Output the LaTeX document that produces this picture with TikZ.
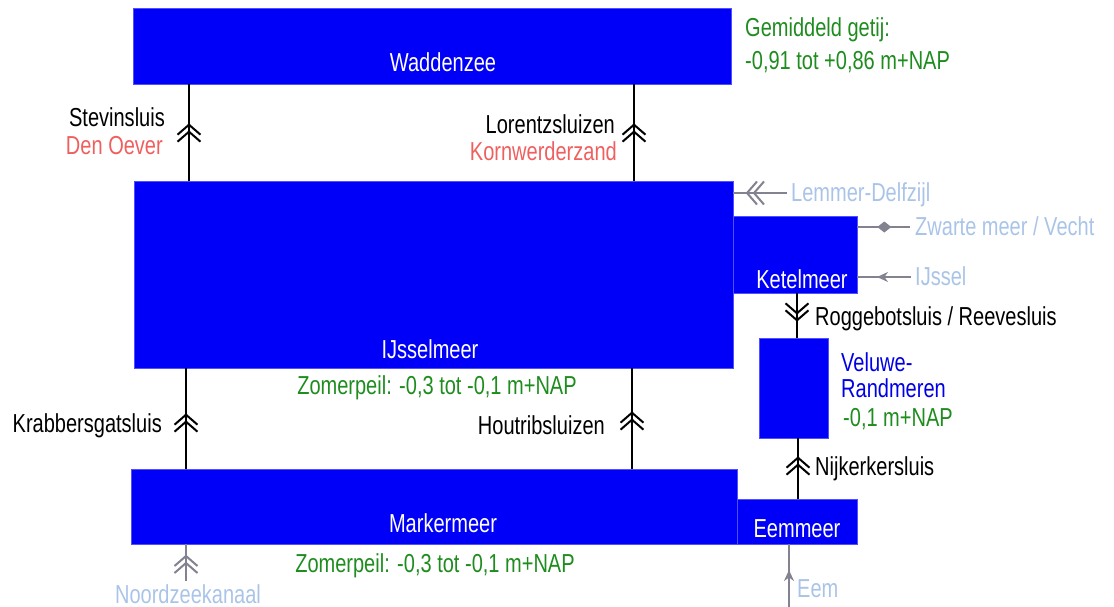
\documentclass[tikz,border=0pt]{standalone}
\usepackage{fontspec}
\setmainfont[FakeStretch=0.77]{Liberation Sans}
\usetikzlibrary{decorations.markings,arrows.meta}

\definecolor{lake}{RGB}{0,0,248}
\definecolor{lakeedge}{RGB}{80,80,255}
\definecolor{peil}{RGB}{30,140,30}
\definecolor{plaats}{RGB}{240,95,95}
\definecolor{extern}{RGB}{170,196,232}
\definecolor{leiding}{RGB}{130,130,145}
\definecolor{randmeer}{RGB}{0,0,230}

\begin{document}
\begin{tikzpicture}[x=1pt,y=-1pt,
  water/.style={fill=lake,draw=lakeedge,line width=0.6pt,inner sep=0pt},
  lbl/.style={inner sep=0pt,text height=18.6pt,text depth=0pt,font=\fontsize{26}{30}\selectfont},
  inlbl/.style={lbl,white},
  sluis/.style={lbl,black},
  plaatslbl/.style={lbl,plaats},
  peillbl/.style={lbl,peil},
  externlbl/.style={lbl,extern},
  conn/.style={draw=black,line width=2pt},
  gconn/.style={draw=leiding,line width=2pt},
  chevs/.style 2 args={postaction={decorate},decoration={markings,
    mark=at position #1 with {\draw[#2,line width=2pt,line join=miter]
      (-10,11.5)--(0,0)--(-10,-11.5) (-17,11.5)--(-7,0)--(-17,-11.5);}}},
  diamondmark/.style={postaction={decorate},decoration={markings,
    mark=at position #1 with {\fill[leiding] (-7,0)--(0,5.5)--(7,0)--(0,-5.5)--cycle;}}},
  tipmark/.style={postaction={decorate},decoration={markings,
    mark=at position #1 with {\arrow[leiding]{Stealth[length=11pt,width=10pt]}}}}
]
\useasboundingbox (0,0) rectangle (1114,607);

% water bodies
\node[water,minimum width=598pt,minimum height=76pt] (wad) at (432,46) {};
\node[water,minimum width=599pt,minimum height=187pt] (ijs) at (433.5,274.5) {};
\node[water,minimum width=124pt,minimum height=77pt] (ket) at (795,254.5) {};
\node[water,minimum width=69pt,minimum height=100pt] (vel) at (793.5,388) {};
\node[water,minimum width=606pt,minimum height=75pt] (mar) at (434,506.5) {};
\node[water,minimum width=120pt,minimum height=45pt] (eem) at (797,521.5) {};

% names inside the water bodies
\node[inlbl] (wadlbl) at (443,62) {Waddenzee};
\node[inlbl] (ijslbl) at (430,349) {IJsselmeer};
\node[inlbl] (ketlbl) at (802,279) {Ketelmeer};
\node[inlbl] (marlbl) at (443,523) {Markermeer};
\node[inlbl] (eemlbl) at (797,528) {Eemmeer};

% locks
\node[sluis,anchor=east] (stev) at (165,117) {Stevinsluis};
\node[plaatslbl,anchor=east] (denoever) at (163,145) {Den Oever};
\node[sluis,anchor=east] (lor) at (615,124) {Lorentzsluizen};
\node[plaatslbl,anchor=east] (korn) at (617,151) {Kornwerderzand};
\node[sluis,anchor=east] (krab) at (162,423) {Krabbersgatsluis};
\node[sluis,anchor=east] (hout) at (605,425) {Houtribsluizen};
\node[sluis,anchor=west] (rogg) at (815,316) {Roggebotsluis / Reevesluis};
\node[sluis,anchor=west] (nijk) at (815,466) {Nijkerkersluis};

% water levels
\node[peillbl,anchor=west] (getij1) at (745,27) {Gemiddeld getij:};
\node[peillbl,anchor=west] (getij2) at (745,60) {-0,91 tot +0,86 m+NAP};
\node[peillbl] (zomij) at (437,385) {Zomerpeil: -0,3 tot -0,1 m+NAP};
\node[peillbl] (zommar) at (435,563) {Zomerpeil: -0,3 tot -0,1 m+NAP};
\node[lbl,randmeer,anchor=west] (vel1) at (841,362) {Veluwe-};
\node[lbl,randmeer,anchor=west] (vel2) at (841,388) {Randmeren};
\node[peillbl,anchor=west] (velpeil) at (843,417) {-0,1 m+NAP};

% outside connections
\node[externlbl,anchor=west] (lem) at (791,192) {Lemmer-Delfzijl};
\node[externlbl,anchor=west] (zw) at (915,226) {Zwarte meer / Vecht};
\node[externlbl,anchor=west] (ijss) at (915,276) {IJssel};
\node[externlbl] (nzk) at (188,594) {Noordzeekanaal};
\node[externlbl,anchor=west] (eemr) at (797,588) {Eem};

% connector positions
\coordinate (xstev) at (189,0);
\coordinate (xlor) at (634,0);
\coordinate (xkrab) at (186,0);
\coordinate (xhout) at (632,0);
\coordinate (xrogg) at (797,0);
\coordinate (xnijk) at (798,0);
\coordinate (lemc) at (787,193);
\coordinate (zwc) at (910,227);
\coordinate (ijc) at (911,277);
\coordinate (nzc) at (186,581);
\coordinate (eemc) at (789,607);

% locks between the lakes
\draw[conn,chevs={56pt}{black}] (ijs.north -| xstev) -- (wad.south -| xstev);
\draw[conn,chevs={56pt}{black}] (ijs.north -| xlor) -- (wad.south -| xlor);
\draw[conn,chevs={54pt}{black}] (mar.north -| xkrab) -- (ijs.south -| xkrab);
\draw[conn,chevs={56pt}{black}] (mar.north -| xhout) -- (ijs.south -| xhout);
\draw[conn,chevs={27pt}{black}] (ket.south -| xrogg) -- (vel.north -| xrogg);
\draw[conn,chevs={41pt}{black}] (eem.north -| xnijk) -- (vel.south -| xnijk);

% inflows and links to other waters
\draw[gconn,chevs={40pt}{leiding}] (lemc) -- (ijs.east |- lemc);
\draw[gconn,diamondmark=27pt] (ket.east |- zwc) -- (zwc);
\draw[gconn,tipmark=34pt] (ijc) -- (ket.east |- ijc);
\draw[gconn,chevs={25pt}{leiding}] (nzc) -- (mar.south -| nzc);
\draw[gconn,tipmark=37pt] (eemc) -- (eem.south -| eemc);
\end{tikzpicture}
\end{document}
